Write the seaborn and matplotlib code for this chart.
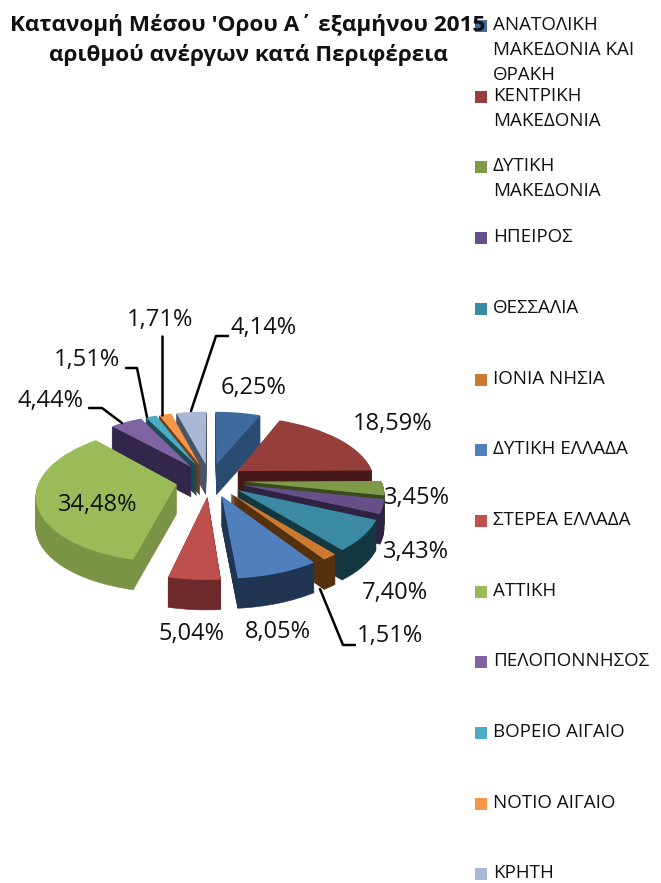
import matplotlib
matplotlib.use("Agg")
import numpy as np
import matplotlib.pyplot as plt
import seaborn as sns
from matplotlib.lines import Line2D
from matplotlib.patches import Rectangle
from matplotlib.transforms import Affine2D, Transform

regions = ["ΑΝΑΤΟΛΙΚΗ\nΜΑΚΕΔΟΝΙΑ ΚΑΙ\nΘΡΑΚΗ", "ΚΕΝΤΡΙΚΗ\nΜΑΚΕΔΟΝΙΑ", "ΔΥΤΙΚΗ\nΜΑΚΕΔΟΝΙΑ", "ΗΠΕΙΡΟΣ",
           "ΘΕΣΣΑΛΙΑ", "ΙΟΝΙΑ ΝΗΣΙΑ", "ΔΥΤΙΚΗ ΕΛΛΑΔΑ", "ΣΤΕΡΕΑ ΕΛΛΑΔΑ", "ΑΤΤΙΚΗ",
           "ΠΕΛΟΠΟΝΝΗΣΟΣ", "ΒΟΡΕΙΟ ΑΙΓΑΙΟ", "ΝΟΤΙΟ ΑΙΓΑΙΟ", "ΚΡΗΤΗ"]
shares = [6.25, 18.59, 3.45, 3.43, 7.40, 1.51, 8.05, 5.04, 34.48, 4.44, 1.51, 1.71, 4.14]
share_labels = ["6,25%", "18,59%", "3,45%", "3,43%", "7,40%", "1,51%", "8,05%",
                "5,04%", "34,48%", "4,44%", "1,51%", "1,71%", "4,14%"]

top_colors = ["#3E6A9E", "#953E3C", "#7F9A48", "#66508A", "#3A8AA3", "#CC7A30", "#4F7FBC",
              "#BE4F4C", "#9BBB59", "#8064A2", "#4BACC6", "#F79646", "#A9B8D6"]
side_colors = ["#2B4C72", "#451A18", "#3A4A1E", "#2F2342", "#143842", "#55300F", "#1F3552",
               "#6E2A2A", "#7A9345", "#32264A", "#1D4A55", "#6E401A", "#4A5468"]

W, H = 661, 883


def fx(x):
    return x / W


def fy(y):
    return 1 - y / H


class Tilt(Transform):
    # back of the pie shrinks, front grows
    input_dims = 2
    output_dims = 2

    def __init__(self, a):
        super().__init__()
        self.a = a

    def transform_non_affine(self, values):
        d = 1 + self.a * values[:, 1]
        return np.column_stack([values[:, 0] / d, values[:, 1] / d])


sns.set_theme(style="white")
plt.rcParams["font.family"] = ["Open Sans", "DejaVu Sans"]

fig = plt.figure(figsize=(W / 100, H / 100), dpi=100, facecolor="white")
ax = fig.add_axes([0, 0, 1, 1])

rx, ry = 137, 65
cx, cy = 210, 480
depth = 30
explode = [0.25] * len(shares)

# extruded by stacking darker copies under the top face
for k in range(depth, -1, -1):
    cols = top_colors if k == 0 else side_colors
    wedges, _ = ax.pie(shares, explode=explode, colors=sns.color_palette(cols), startangle=90,
                       counterclock=False)
    for w, c in zip(wedges, cols):
        w.set_edgecolor(c)
        w.set_linewidth(0 if k == 0 else 0.4)
        w.set_transform(Tilt(0.15) + Affine2D().translate(0, -k / ry) + ax.transData)

ax.set_aspect("auto")
ax.set_xlim(-cx / rx, (W - cx) / rx)
ax.set_ylim(-(H - cy) / ry, cy / ry)
ax.axis("off")

# title
fig.text(fx(248), fy(25), "Κατανομή Μέσου 'Ορου Α΄ εξαμήνου 2015", ha="center", va="center",
         fontsize=16.2, fontweight="bold", color="#111111")
fig.text(fx(248), fy(55), "αριθμού ανέργων κατά Περιφέρεια", ha="center", va="center",
         fontsize=16.2, fontweight="bold", color="#111111")

# data labels
label_xy = [(254, 388), (393, 424), (417, 498), (416, 552), (395, 593), (390, 636), (278, 632),
            (192, 634), (98, 505), (50, 401), (87, 360), (160, 320), (264, 328)]
for txt, (x, y) in zip(share_labels, label_xy):
    fig.text(fx(x), fy(y), txt, ha="center", va="center", fontsize=17, color="#111111")

# leader lines
leaders = [[(228, 336), (216, 336), (191, 411)],
           [(162, 336), (162, 415)],
           [(126, 368), (137, 368), (147, 417)],
           [(89, 408), (102, 408), (122, 423)],
           [(320, 589), (343, 645), (355, 645)]]
for pts in leaders:
    fig.add_artist(Line2D([fx(p[0]) for p in pts], [fy(p[1]) for p in pts], color="black", lw=1.8))

# legend, evenly spaced so the three line entry runs into the next one
for i, (name, c) in enumerate(zip(regions, top_colors)):
    y = 25 + 70.7 * i
    fig.add_artist(Rectangle((fx(475), fy(y + 7)), 12 / W, 12 / H, transform=fig.transFigure,
                             facecolor=c, edgecolor="none"))
    fig.text(fx(493), fy(y - 9), name, ha="left", va="top", fontsize=13.5, color="#111111",
             linespacing=1.5)

fig.savefig("out.png", dpi=100)
